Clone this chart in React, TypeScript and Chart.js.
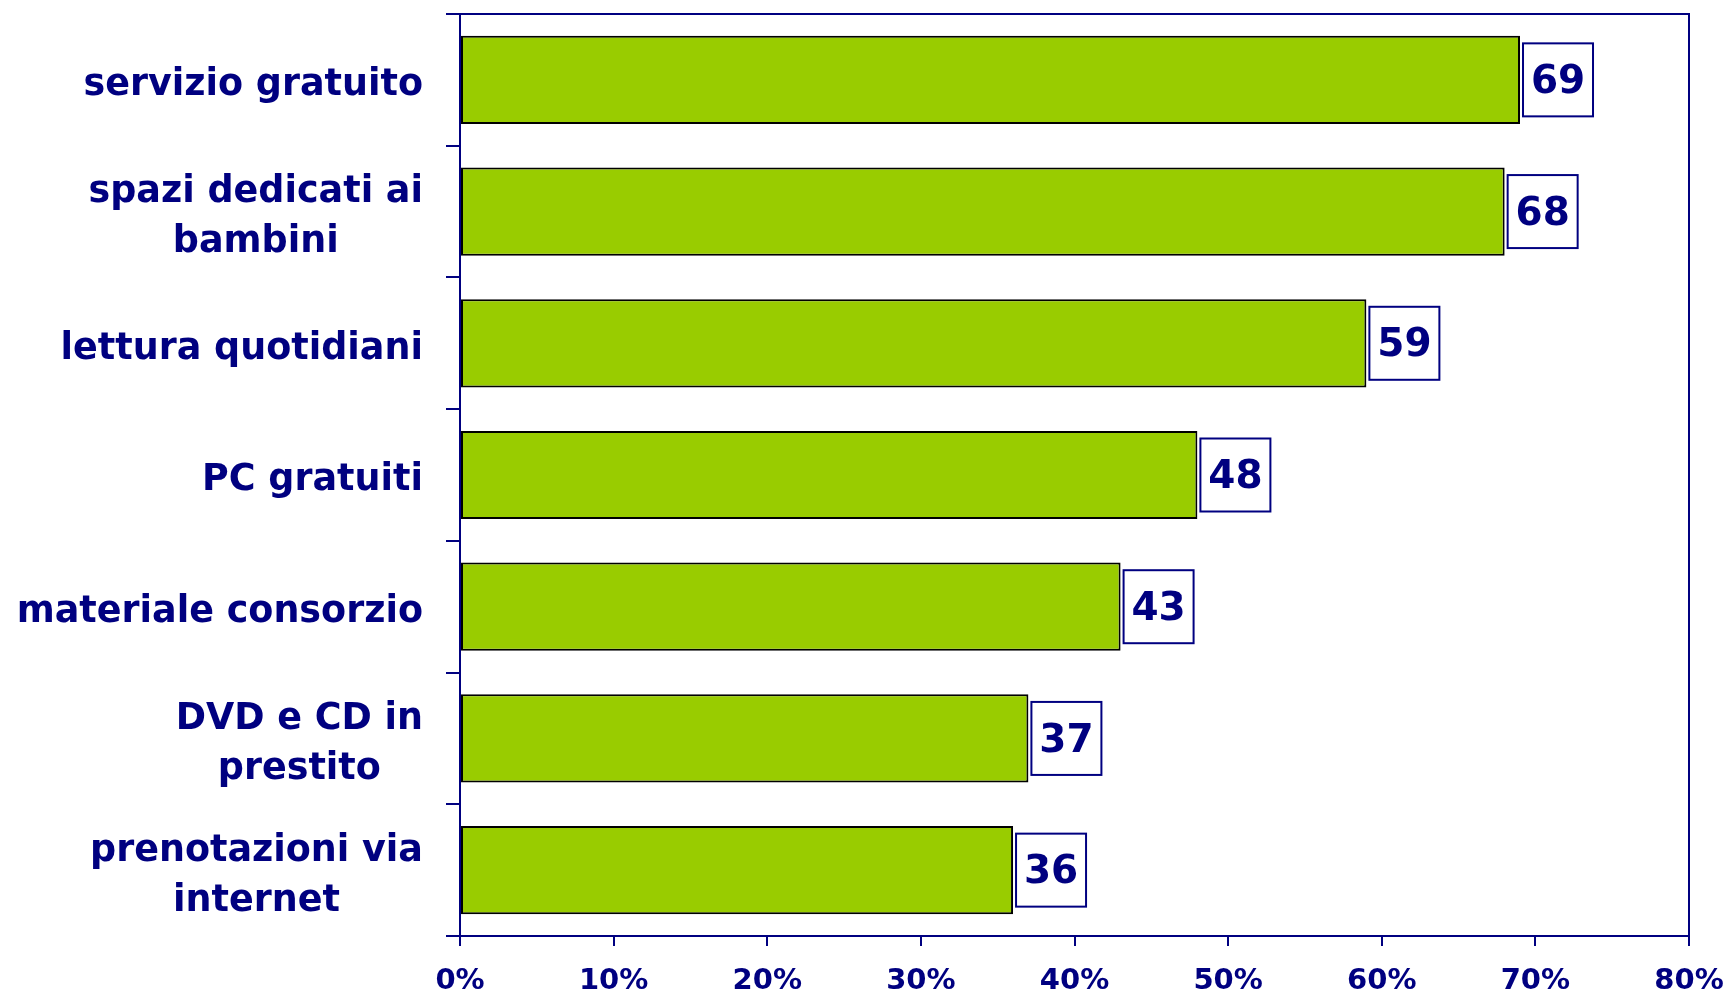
import React, { useEffect, useRef } from "react";
import { Chart, registerables } from "chart.js";

Chart.register(...registerables);

const categories: string[][] = [
  ["servizio gratuito"],
  ["spazi dedicati ai", "bambini"],
  ["lettura quotidiani"],
  ["PC gratuiti"],
  ["materiale consorzio"],
  ["DVD e CD in", "prestito"],
  ["prenotazioni via", "internet"],
];
const values: number[] = [69, 68, 59, 48, 43, 37, 36];
const xTicks: number[] = [0, 10, 20, 30, 40, 50, 60, 70, 80];

const NAVY = "#000080";
const FONT = "'DejaVu Sans', Verdana, sans-serif";

const framePlugin = {
  id: "frame",
  afterDraw(chart: any) {
    const { ctx, chartArea } = chart;
    ctx.save();
    ctx.strokeStyle = NAVY;
    ctx.lineWidth = 2;
    ctx.beginPath();
    ctx.moveTo(chartArea.left - 14, chartArea.top);
    ctx.lineTo(chartArea.right, chartArea.top);
    ctx.lineTo(chartArea.right, chartArea.bottom);
    ctx.stroke();
    ctx.restore();
  },
};

const yLabelPlugin = {
  id: "ylabels",
  afterDraw(chart: any) {
    const { ctx } = chart;
    const scale = chart.scales.y;
    const rightEdge = chart.chartArea.left - 37;
    const lineH = 50;
    ctx.save();
    ctx.font = `bold 36.5px ${FONT}`;
    ctx.fillStyle = NAVY;
    ctx.textAlign = "center";
    ctx.textBaseline = "middle";
    categories.forEach((lines, i) => {
      const y = scale.getPixelForValue(i);
      const maxW = Math.max(...lines.map((l) => ctx.measureText(l).width));
      const cx = rightEdge - maxW / 2;
      const startY = y - ((lines.length - 1) * lineH) / 2;
      lines.forEach((l, j) => ctx.fillText(l, cx, startY + j * lineH + 6));
    });
    ctx.restore();
  },
};

const valueLabelPlugin = {
  id: "valuelabels",
  afterDatasetsDraw(chart: any) {
    const { ctx } = chart;
    const meta = chart.getDatasetMeta(0);
    ctx.save();
    ctx.font = `bold 39px ${FONT}`;
    ctx.textAlign = "center";
    ctx.textBaseline = "middle";
    meta.data.forEach((el: any, i: number) => {
      const w = 70;
      const h = 73;
      const left = el.x + 3;
      const top = el.y - h / 2;
      ctx.fillStyle = "#ffffff";
      ctx.fillRect(left, top, w, h);
      ctx.strokeStyle = NAVY;
      ctx.lineWidth = 2;
      ctx.strokeRect(left, top, w, h);
      ctx.fillStyle = NAVY;
      ctx.fillText(String(values[i]), left + w / 2, el.y + 3);
    });
    ctx.restore();
  },
};

export default function App() {
  const ref = useRef<HTMLCanvasElement>(null);
  useEffect(() => {
    if (!ref.current) return;
    const chart = new Chart(ref.current, {
      type: "bar",
      data: {
        labels: categories,
        datasets: [
          {
            data: values,
            backgroundColor: "#99CC00",
            borderColor: "#000000",
            borderWidth: 2,
            borderSkipped: false,
            barPercentage: 0.67,
            categoryPercentage: 1,
          },
        ],
      },
      options: {
        indexAxis: "y",
        responsive: false,
        animation: false,
        layout: { padding: { left: 0, top: 14, right: 42, bottom: 0 } },
        plugins: {
          legend: { display: false },
          tooltip: { enabled: false },
        },
        scales: {
          x: {
            min: 0,
            max: 80,
            afterBuildTicks: (s: any) => {
              s.ticks = xTicks.map((v) => ({ value: v }));
            },
            afterFit: (s: any) => {
              s.height = 58;
              s.paddingLeft = 0;
              s.paddingRight = 0;
            },
            grid: {
              drawOnChartArea: false,
              drawTicks: true,
              tickLength: 10,
              color: NAVY,
              lineWidth: 2,
            },
            border: { color: NAVY, width: 2 },
            ticks: {
              padding: 18,
              color: NAVY,
              font: { family: FONT, size: 29, weight: "bold" },
              callback: (v: any) => `${v}%`,
              maxRotation: 0,
            },
          },
          y: {
            type: "category",
            afterFit: (s: any) => {
              s.width = 460;
              s.paddingTop = 0;
              s.paddingBottom = 0;
            },
            grid: {
              offset: true,
              drawOnChartArea: false,
              drawTicks: true,
              tickLength: 14,
              color: NAVY,
              lineWidth: 2,
            },
            border: { color: NAVY, width: 2 },
            ticks: { display: false },
          },
        },
      },
      plugins: [framePlugin, yLabelPlugin, valueLabelPlugin],
    });
    return () => chart.destroy();
  }, []);
  return (
    <div style={{ position: "fixed", left: 0, top: 0, width: 1731, height: 994, background: "#fff" }}>
      <canvas ref={ref} width={1731} height={994} />
    </div>
  );
}
